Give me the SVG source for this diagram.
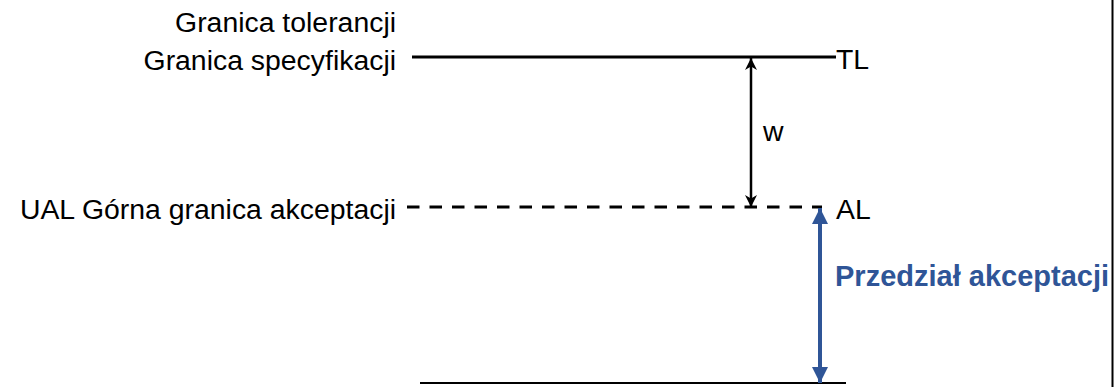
<svg xmlns="http://www.w3.org/2000/svg" width="1114" height="387" viewBox="0 0 1114 387">
  <style>
    .lbl { font-family: "Liberation Sans", Arial, sans-serif; font-size: 28.4px; fill: #000; }
    .rt { text-anchor: end; }
    .acc { font-family: "Liberation Sans", Arial, sans-serif; font-size: 29px; font-weight: bold; fill: #2F5597; }
  </style>
  <defs>
    <marker id="ahBlack" viewBox="0 0 10 10" refX="10" refY="5" markerWidth="12" markerHeight="12" markerUnits="userSpaceOnUse" orient="auto-start-reverse">
      <path d="M0,0 L10,5 L0,10 L3,5 z" fill="#000"/>
    </marker>
    <marker id="ahBlue" viewBox="0 0 10 10" refX="10" refY="5" markerWidth="16" markerHeight="16" markerUnits="userSpaceOnUse" orient="auto-start-reverse">
      <path d="M0,0 L10,5 L0,10 z" fill="#2F5597"/>
    </marker>
  </defs>

  <rect width="1114" height="387" fill="#fff"/>

  <g id="limit-tl">
    <text class="lbl rt" x="396" y="32">Granica tolerancji</text>
    <text class="lbl rt" x="396" y="70">Granica specyfikacji</text>
    <line x1="412" y1="57" x2="836" y2="57" stroke="#000" stroke-width="3"/>
    <text class="lbl" x="836" y="69">TL</text>
  </g>

  <g id="limit-al">
    <text class="lbl rt" x="396" y="219">UAL Górna granica akceptacji</text>
    <line x1="407" y1="207" x2="822" y2="207" stroke="#000" stroke-width="3" stroke-dasharray="12.5 10"/>
    <text class="lbl" x="836" y="219">AL</text>
  </g>

  <g id="base-line">
    <line x1="420" y1="383" x2="846" y2="383" stroke="#000" stroke-width="2"/>
  </g>

  <g id="label-w">
    <text class="lbl" x="763" y="141">w</text>
  </g>

  <g id="label-acceptance">
    <text class="acc" x="835" y="286">Przedział akceptacji</text>
  </g>

  <g id="frame-edge">
    <line x1="1112.5" y1="0" x2="1112.5" y2="387" stroke="#000" stroke-width="2"/>
  </g>

  <g id="connectors">
    <line x1="751" y1="58" x2="751" y2="207" stroke="#000" stroke-width="2.5" marker-start="url(#ahBlack)" marker-end="url(#ahBlack)"/>
    <line x1="820" y1="208" x2="820" y2="383" stroke="#2F5597" stroke-width="4" marker-start="url(#ahBlue)" marker-end="url(#ahBlue)"/>
  </g>
</svg>
